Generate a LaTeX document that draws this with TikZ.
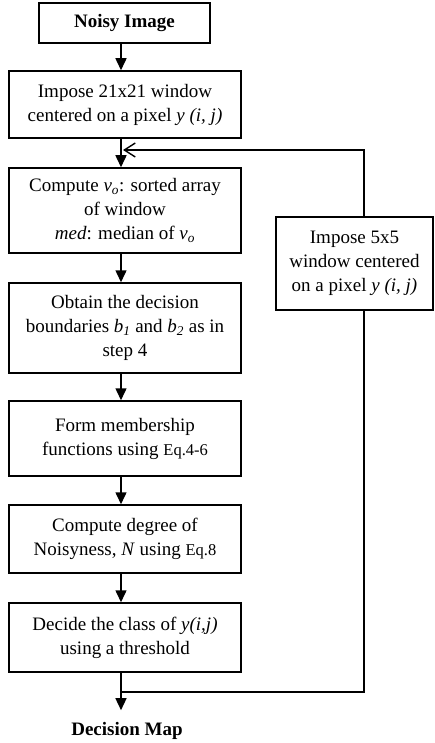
\documentclass[tikz,border=0pt]{standalone}
\usepackage{fontspec}
\setmainfont{Liberation Serif}
\usetikzlibrary{arrows.meta,calc}
\newcommand{\eqf}{\fontsize{16.5}{24}\selectfont}
\newcommand{\subit}[2]{\textit{#1}\textsubscript{\textit{#2}}}
\begin{document}
\begin{tikzpicture}[x=1pt,y=-1pt,
  box/.style={draw, line width=1.5pt, minimum width=232pt, align=center, inner sep=0pt,
    font=\fontsize{19}{24}\selectfont},
  lnk/.style={line width=1.5pt},
  flow/.style={lnk, -{Triangle[length=12pt,width=11pt]}},
  back/.style={lnk, -{Straight Barb[length=11pt,width=14pt,line width=1.4pt]}}]
\useasboundingbox (0,0) rectangle (434,743);
\coordinate (col) at (121,0);
\coordinate (fb) at (364,0);
\node[box, minimum width=171pt, minimum height=40pt, font=\fontsize{19}{24}\selectfont\bfseries] (n1) at (124.5,23) {Noisy Image};
\node[box, minimum height=67pt] (n2) at (125,104.5) {Impose 21x21 window\\centered on a pixel \textit{y (i, j)}};
\node[box, minimum height=85pt] (n3) at (125,210.5) {Compute \subit{v}{o}: sorted array\\of window\\\textit{med}: median of \subit{v}{o}};
\node[box, minimum height=90pt] (n4) at (125,328) {Obtain the decision\\boundaries \subit{b}{1} and \subit{b}{2} as in\\step 4};
\node[box, minimum height=75pt] (n5) at (125,438.5) {Form membership\\functions using {\eqf Eq.4-6}};
\node[box, minimum height=68pt] (n6) at (125,539) {Compute degree of\\Noisyness, \textit{N} using {\eqf Eq.8}};
\node[box, minimum height=69pt] (n7) at (125,637.5) {Decide the class of \textit{y(i,j)}\\using a threshold};
\node[box, minimum width=157pt, minimum height=93pt] (side) at (354.5,263.5) {Impose 5x5\\window centered\\on a pixel \textit{y (i, j)}};
\node[font=\fontsize{19}{24}\selectfont\bfseries, inner sep=0pt, inner ysep=12pt] (out) at (127,731) {Decision Map};
\coordinate (join) at (123,150);
\coordinate (merge) at (121,692);
\draw[flow] (n1.south -| col) -- (n2.north -| col);
\draw[flow] (n2.south -| col) -- (n3.north -| col);
\draw[flow] (n3.south -| col) -- (n4.north -| col);
\draw[flow] (n4.south -| col) -- (n5.north -| col);
\draw[flow] (n5.south -| col) -- (n6.north -| col);
\draw[flow] (n6.south -| col) -- (n7.north -| col);
\draw[flow] (n7.south -| col) -- (out.north -| col);
\draw[back] (side.north -| fb) |- (join);
\draw[lnk] (side.south -| fb) |- (merge);
\end{tikzpicture}
\end{document}
